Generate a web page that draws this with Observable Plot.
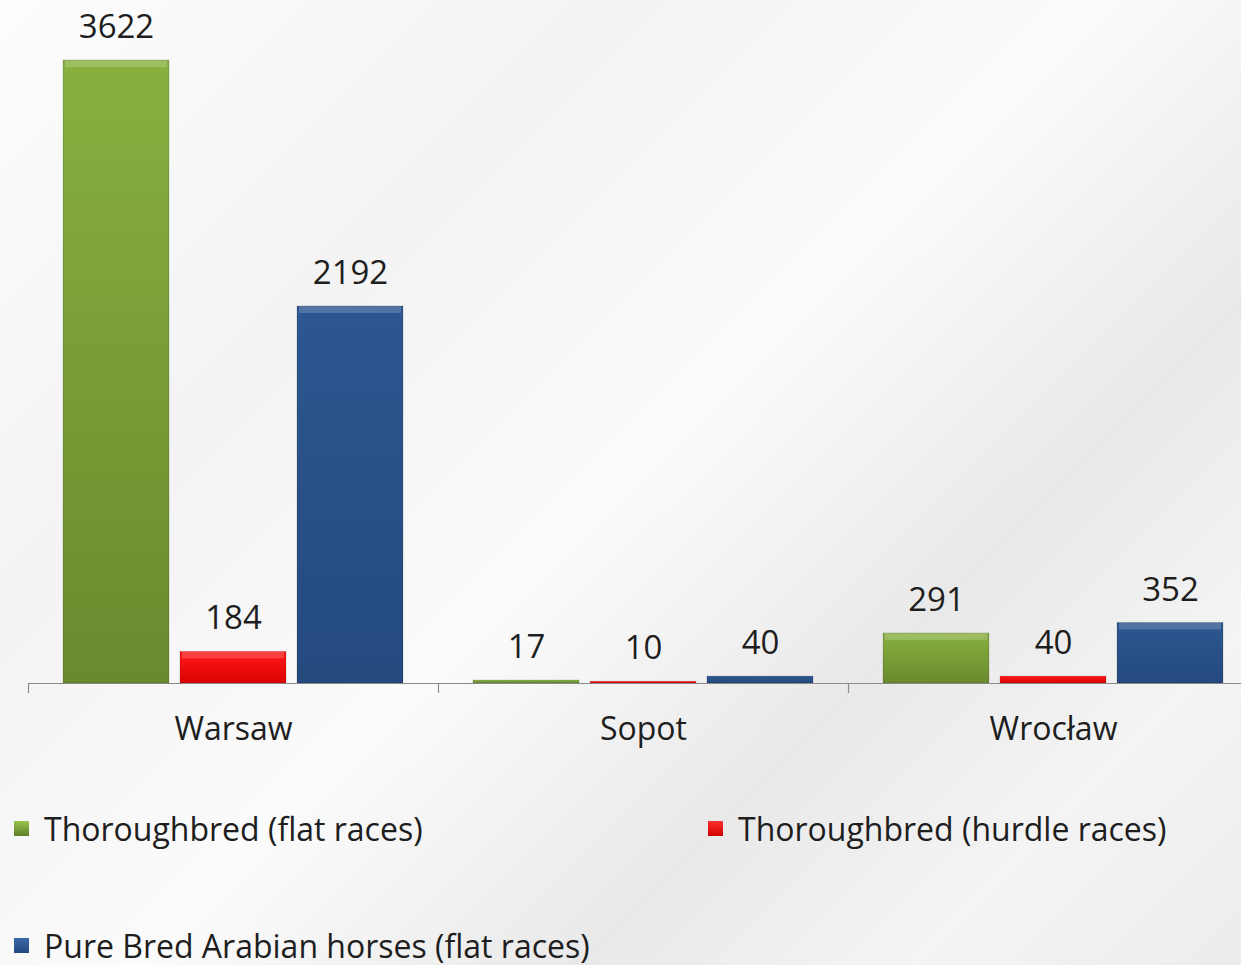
<!DOCTYPE html>
<html><head><meta charset="utf-8">
<script src="https://cdn.jsdelivr.net/npm/d3@7"></script>
<script src="https://cdn.jsdelivr.net/npm/@observablehq/plot@0.6"></script>
<style>
html,body{margin:0;padding:0;overflow:hidden;}
body{width:1241px;height:965px;font-family:"Open Sans",sans-serif;color:#1e1e1e;
background:linear-gradient(135deg,#fdfdfd 0%,#f3f3f3 28%,#fbfbfb 50%,#e9e9e9 70%,#f4f4f4 85%,#ececec 100%);}
#chart svg{display:block;}
#legend{display:grid;grid-template-columns:694px 530px;grid-auto-rows:117px;padding-left:14px;font-size:32px;}
.item{display:flex;align-items:center;white-space:nowrap;}
.sw{width:15px;height:15px;margin-right:15px;flex:none;}
</style></head><body>
<div id="chart"></div><div id="legend"></div>
<script>
const cities = ["Warsaw", "Sopot", "Wrocław"];
const series = ["Thoroughbred (flat races)", "Thoroughbred (hurdle races)", "Pure Bred Arabian horses (flat races)"];
const flatRaces = [3622, 17, 291];
const hurdleRaces = [184, 10, 40];
const arabianFlat = [2192, 40, 352];

const seriesValues = [flatRaces, hurdleRaces, arabianFlat];
const rows = cities.flatMap((c, i) => series.map((s, k) => ({city: c, series: s, value: seriesValues[k][i]})));

const gradStops = [
  ["gG", "#88b03f", "#6a8a2e"],
  ["gR", "#ff1a1a", "#dc0000"],
  ["gB", "#2d5790", "#244a7e"]
];
const swatch = ["linear-gradient(#98c64c,#5e7d28)", "linear-gradient(#ff3030,#d00000)", "linear-gradient(#3a68a8,#244a7e)"];

const W = 1241, H = 770, mL = 28, mR = -17, mT = 60, mB = 87;
const bandW = (W - mL - mR) / cities.length;

const chart = Plot.plot({
  width: W, height: H,
  marginLeft: mL, marginRight: mR, marginTop: mT, marginBottom: mB,
  style: {background: "transparent", fontFamily: '"Open Sans", sans-serif', fontSize: "32px", color: "#1e1e1e", overflow: "visible"},
  fx: {domain: cities, padding: 0, label: null, axis: "bottom", tickSize: 0, tickPadding: 34},
  x: {domain: series, paddingInner: 0.093, paddingOuter: 0.284, axis: null},
  y: {domain: [0, d3.max(rows, d => d.value)], axis: null},
  color: {domain: series, range: gradStops.map(g => `url(#${g[0]})`)},
  marks: [
    Plot.barY(rows, {fx: "city", x: "series", y: "value", fill: "series", stroke: "rgba(0,0,0,0.15)", strokeWidth: 1}),
    Plot.barY(rows.filter(d => d.value > 100), {fx: "city", x: "series", y1: "value", y2: "value", insetBottom: -7, insetLeft: 2, insetRight: 2, fill: "white", fillOpacity: 0.18}),
    Plot.ruleY([0], {stroke: "#8a8a8a", strokeWidth: 1.2}),
    Plot.ruleX(cities, {fx: d => d, x: null, y1: 0, y2: 0, insetBottom: -10, dx: -bandW / 2, stroke: "#8a8a8a", strokeWidth: 1.2}),
    Plot.text(rows, {fx: "city", x: "series", y: "value", text: d => String(d.value), dy: -33, fontSize: 33, fill: "#1e1e1e"})
  ]
});

const defs = d3.select(chart).insert("defs", ":first-child");
gradStops.forEach(([id, c0, c1]) => {
  const g = defs.append("linearGradient").attr("id", id).attr("x1", 0).attr("y1", 0).attr("x2", 0).attr("y2", 1);
  g.append("stop").attr("offset", "0%").attr("stop-color", c0);
  g.append("stop").attr("offset", "100%").attr("stop-color", c1);
});

document.getElementById("chart").appendChild(chart);

const legend = d3.select("#legend");
series.forEach((s, k) => {
  const it = legend.append("div").attr("class", "item");
  it.append("span").attr("class", "sw").style("background", swatch[k]);
  it.append("span").text(s);
});
</script>
</body></html>
